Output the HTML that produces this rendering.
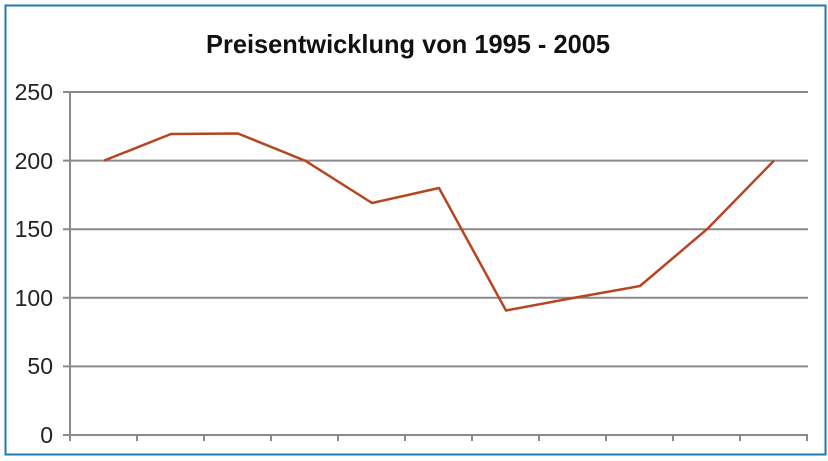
<!DOCTYPE html>
<html><head><meta charset="utf-8"><style>
html,body{margin:0;padding:0;background:#fff;}
svg{display:block;}
</style></head><body>
<svg width="828" height="461" xmlns="http://www.w3.org/2000/svg">
<rect x="0" y="0" width="828" height="461" fill="#fff"/>
<rect x="5.5" y="5.5" width="820" height="449" fill="none" stroke="#1f78b4" stroke-width="2"/>
<text x="206" y="53" textLength="404" lengthAdjust="spacingAndGlyphs" font-family="Liberation Sans, sans-serif" font-weight="bold" font-size="26" fill="#111">Preisentwicklung von 1995 - 2005</text>
<g stroke="#8a8a8a" stroke-width="2">
<line x1="63" y1="92" x2="808" y2="92"/>
<line x1="63" y1="160.6" x2="808" y2="160.6"/>
<line x1="63" y1="229.2" x2="808" y2="229.2"/>
<line x1="63" y1="297.8" x2="808" y2="297.8"/>
<line x1="63" y1="366.4" x2="808" y2="366.4"/>
<line x1="63" y1="435" x2="808" y2="435"/>
<line x1="70" y1="92" x2="70" y2="441"/>
<line x1="137" y1="435" x2="137" y2="441"/><line x1="204" y1="435" x2="204" y2="441"/>
<line x1="271" y1="435" x2="271" y2="441"/><line x1="338" y1="435" x2="338" y2="441"/>
<line x1="405" y1="435" x2="405" y2="441"/><line x1="472" y1="435" x2="472" y2="441"/>
<line x1="539" y1="435" x2="539" y2="441"/><line x1="606" y1="435" x2="606" y2="441"/>
<line x1="673" y1="435" x2="673" y2="441"/><line x1="740" y1="435" x2="740" y2="441"/>
<line x1="807" y1="435" x2="807" y2="441"/>
</g>
<g font-family="Liberation Sans, sans-serif" font-size="23" fill="#222" text-anchor="end">
<text x="53" y="100">250</text><text x="53" y="169">200</text><text x="53" y="237">150</text>
<text x="53" y="306">100</text><text x="53" y="374">50</text><text x="53" y="443">0</text>
</g>
<polyline fill="none" stroke="#b5461f" stroke-width="2.5" stroke-linejoin="round"
points="104,160.6 171,134 238,133.5 305,160.6 372,203 439,188 506,310.5 573,298 640,286 707,229.2 774,160.6"/>
</svg>
</body></html>
